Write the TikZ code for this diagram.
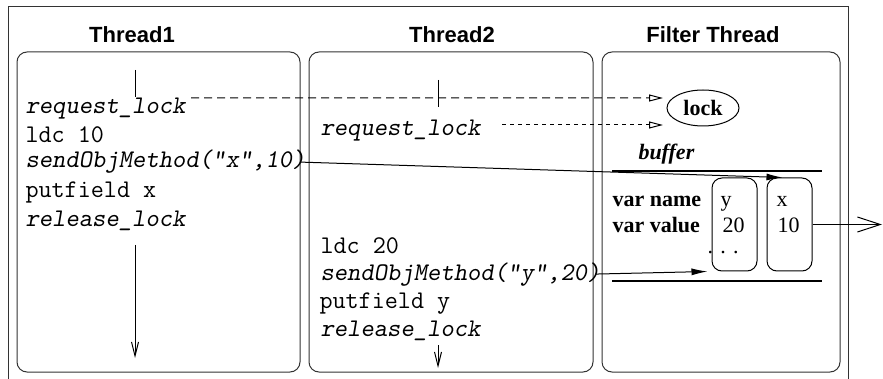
\documentclass[tikz,border=0pt]{standalone}
\usepackage{fontspec}
\setmainfont{Liberation Serif}
\setsansfont{Liberation Sans}
\usetikzlibrary{arrows.meta,shapes.geometric}

\begin{document}
\begin{tikzpicture}[x=0.5pt,y=-0.5pt,line width=0.5pt,
        code/.style={anchor=base west,inner sep=0pt,font=\fontsize{12.7}{15}\selectfont\ttfamily},
        codeit/.style={code,font=\fontsize{12.7}{15}\selectfont\ttfamily\slshape},
        title/.style={anchor=base,inner sep=0pt,font=\fontsize{11}{13}\selectfont\sffamily\bfseries},
        lbl/.style={anchor=base west,inner sep=0pt,font=\fontsize{11}{13}\selectfont},
        threadbox/.style={draw=black!80,rounded corners=5pt,minimum height=160pt,inner sep=0pt},
        cell/.style={draw,rounded corners=5pt,minimum width=22.5pt,minimum height=46.5pt,inner sep=0pt},
        flow/.style={-{Straight Barb[length=7pt,width=3.5pt]}},
        req/.style={dashed,-{Triangle[open,length=7pt,width=3.5pt]}},
        call/.style={-{Latex[length=8pt,width=3.5pt]}}]

        \useasboundingbox (0,0) rectangle (883,379);

        \draw[black!80] (8,379) -- (8,7) -- (848,7) -- (848,379);

        \node[title] (h1) at (132,43) {Thread1};
        \node[title] (h2) at (452,43) {Thread2};
        \node[title] (h3) at (713,43) {Filter Thread};

        \node[threadbox,minimum width=141.5pt] (t1) at (158.5,212) {};
        \node[threadbox,minimum width=142pt] (t2) at (451,212) {};
        \node[threadbox,minimum width=119pt] (tf) at (721,212) {};

        \node[codeit] (rq1) at (25,114) {request\_lock};
        \node[code] (ldc1) at (25,143) {ldc 10};
        \node[codeit] (send1) at (25,168) {sendObjMethod("x",10)};
        \node[code] (put1) at (25,198) {putfield x};
        \node[codeit] (rel1) at (25,227) {release\_lock};

        \node[codeit] (rq2) at (320,136) {request\_lock};
        \node[code] (ldc2) at (320,254) {ldc 20};
        \node[codeit] (send2) at (320,280) {sendObjMethod("y",20)};
        \node[code] (put2) at (319,308) {putfield y};
        \node[codeit] (rel2) at (320,336) {release\_lock};

        \node[draw,ellipse,minimum width=36pt,minimum height=18pt,inner sep=0pt,
              font=\fontsize{11}{13}\selectfont\bfseries] (lock) at (703,108) {lock};

        \node[lbl,font=\fontsize{11}{13}\selectfont\bfseries\itshape] (buf) at (638,160) {buffer};
        \node[lbl,font=\fontsize{11}{13}\selectfont\bfseries] (vname) at (612,207) {var name};
        \node[lbl,font=\fontsize{11}{13}\selectfont\bfseries] (vval) at (612,233) {var value};

        \node[cell] (ycell) at (734.5,224.5) {};
        \node[cell] (xcell) at (789.5,224.5) {};
        \node[lbl] (yname) at (720,207) {y};
        \node[lbl] (yval) at (722,233) {20};
        \node[lbl] (xname) at (776,207) {x};
        \node[lbl] (xval) at (777,233) {10};
        \node[lbl] (more) at (707,254) {.\,\,.\,\,.};

        \draw[line width=1pt] (612,171) -- (822,171);
        \draw[line width=1pt] (612,281) -- (822,281);

        \coordinate (lk1) at (663,98);
        \coordinate (lk2) at (663,125);
        \coordinate (d2) at (502,125);
        \coordinate (out) at (882,224.5);

        \draw (135,70) -- (135,97);
        \draw[flow] (135,245) -- (135,358);
        \draw (438,80) -- (438,107);
        \draw[flow] (438,345) -- (438,368);

        \draw[req,dash pattern=on 4pt off 2.5pt] ([xshift=2.5pt]rq1.north east) -- (lk1);
        \draw[req,dash pattern=on 2.2pt off 1.8pt] (d2) -- (lk2);

        \draw[call] ([xshift=-3pt]send1.east) -- ([xshift=-3.5pt]xcell.north);
        \draw[call] ([xshift=-3pt]send2.east) -- ([xshift=-2pt]ycell.south west);

        \draw[-{Straight Barb[length=11.5pt,width=7.5pt]}] (xcell.east) -- (out);
\end{tikzpicture}
\end{document}
